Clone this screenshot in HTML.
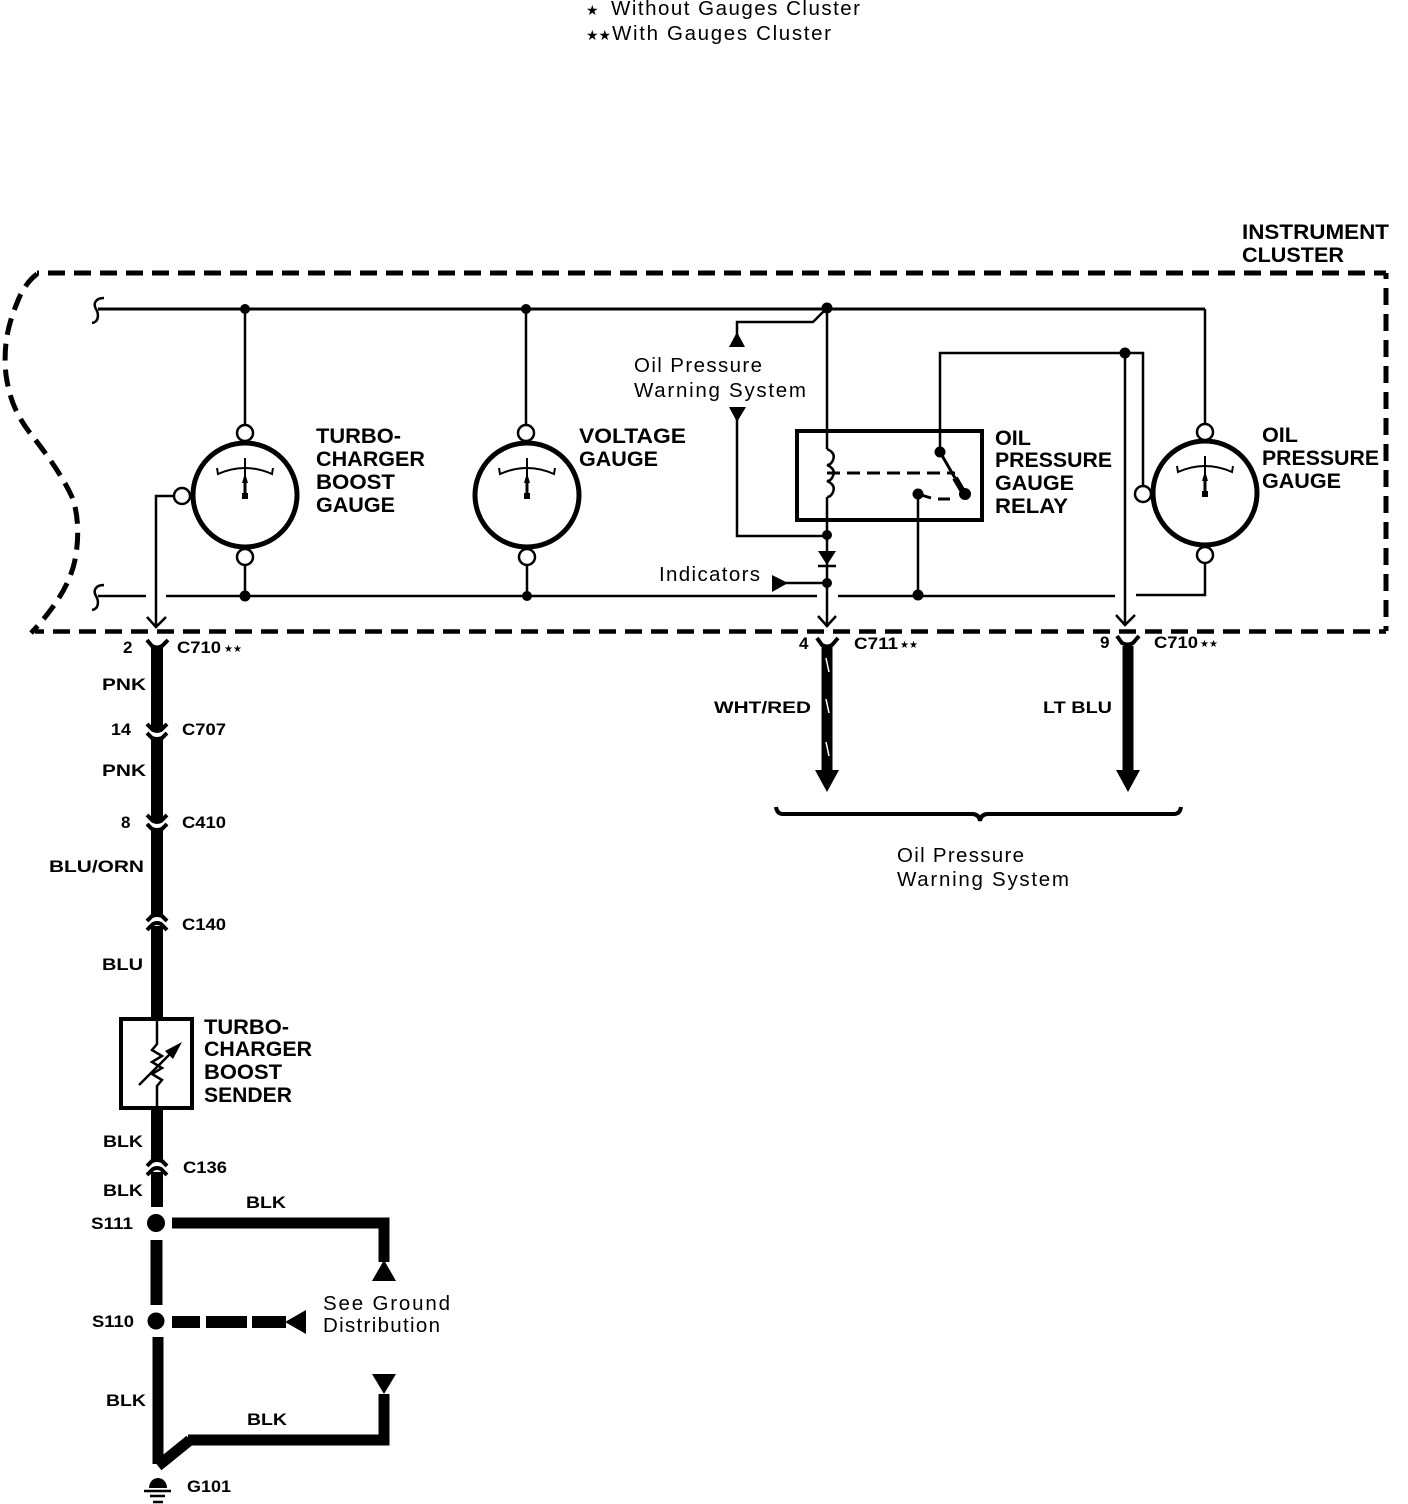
<!DOCTYPE html>
<html><head><meta charset="utf-8"><style>
html,body{margin:0;padding:0;background:#fff}
svg{display:block}
text{font-family:"Liberation Sans","DejaVu Sans",sans-serif;fill:#000}
.b{font-weight:bold;font-size:21px}
.s{font-weight:bold;font-size:17px}
.r{font-size:20.500px}
.star{font-family:"DejaVu Sans",sans-serif;font-size:10px}
.starb{font-family:"DejaVu Sans",sans-serif;font-size:14px}
</style></head><body>
<svg width="1408" height="1504" viewBox="0 0 1408 1504" xmlns="http://www.w3.org/2000/svg">
<defs>
<g id="conn">
<path d="M-10,-9 L-4,-3 Q0,-1 4,-3 L10,-9" fill="none" stroke="#000" stroke-width="4"/>
<path d="M-10,0 L-5,5 Q0,7 5,5 L10,0" fill="none" stroke="#000" stroke-width="4"/>
</g>
<g id="gauge">
<circle cx="0" cy="0" r="52" fill="#fff" stroke="#000" stroke-width="5"/>
<path d="M-28,-27 L-27,-21 Q0,-33 27,-21 L28,-27" fill="none" stroke="#000" stroke-width="2"/>
<path d="M0,-37 V0" stroke="#000" stroke-width="2"/>
<path d="M0,0 V-16" stroke="#000" stroke-width="3"/>
<path d="M0,-22 L-3,-12 H3Z"/>
<rect x="-3" y="-2" width="6" height="6"/>
</g>
<path id="brk" d="M6,-11 C-3,-11 -5,-5 -2,0 C1,5 1,13 -6,14" fill="none" stroke="#000" stroke-width="2.500"/>
</defs>
<rect width="1408" height="1504" fill="#fff"/>

<text x="586" y="15" class="starb">★</text>
<text x="611" y="15" class="r" textLength="249">Without Gauges Cluster</text>
<text x="586" y="40" class="starb">★★</text>
<text x="612" y="40" class="r" textLength="219">With Gauges Cluster</text>

<text x="1242" y="239" class="b" textLength="147" lengthAdjust="spacingAndGlyphs">INSTRUMENT</text>
<text x="1242" y="262" class="b" textLength="102" lengthAdjust="spacingAndGlyphs">CLUSTER</text>

<!-- dashed border -->
<path d="M1386,273 H37" fill="none" stroke="#000" stroke-width="5" stroke-dasharray="17 9" stroke-dashoffset="5"/>
<path d="M35,631.500 H1386" fill="none" stroke="#000" stroke-width="4.500" stroke-dasharray="17 9" stroke-dashoffset="8"/>
<path d="M1386,273 V631" fill="none" stroke="#000" stroke-width="5" stroke-dasharray="17 9" stroke-dashoffset="11"/>
<path d="M37,274 Q24,284 17,303 C8,325 3,345 6,375 C9,395 14,412 30,433 C45,452 62,475 72,497 C79,515 79,540 75,560 C71,580 58,605 31,633" fill="none" stroke="#000" stroke-width="5" stroke-dasharray="17 9"/>

<!-- wires -->
<g fill="none" stroke="#000" stroke-width="2.500">
<path d="M98,309 H1205" stroke-width="3"/>
<path d="M1205,309 V424"/>
<path d="M245,309 V425 M526,309 V425"/>
<path d="M98,596 H146 M166,596 H817 M838,596 H1115 M1136,595 H1205 V563"/>
<path d="M245,565 V596 M527,565 V596"/>
<path d="M174,496 H156 V627 M147,617 L156,627 L166,617"/>
<path d="M827,309 V449 M827,497 V627 M818,616 L827,626 L836,616"/>
<path d="M827,449 q9,4 6,11 q-2,5 -6,5 q9,4 6,11 q-2,5 -6,5 q9,4 6,11 q-2,5 -6,5"/>
<path d="M737,345 V322 H813 L827,308"/>
<path d="M737,415 V536 H827"/>
<path d="M780,583 H827"/>
<path d="M940,452 V353 H1143 V486"/>
<path d="M1125,353 V625 M1116,615 L1125,625 L1135,615"/>
<path d="M918,494 V595"/>
</g>
<g fill="none" stroke="#000" stroke-width="3" stroke-dasharray="13 7"><path d="M827,473 H955"/></g>
<path d="M940,452 L955,478" stroke="#000" stroke-width="3"/>
<path d="M955,478 L965,495" stroke="#000" stroke-width="6"/>
<path d="M918,494 L931,498 M938,499 H950" stroke="#000" stroke-width="3" fill="none"/>
<circle cx="965" cy="494" r="6"/>
<rect x="797" y="431" width="185" height="89" fill="none" stroke="#000" stroke-width="4"/>
<!-- dots -->
<g>
<circle cx="245" cy="309" r="5"/><circle cx="526" cy="309" r="5"/><circle cx="827" cy="308" r="5.500"/>
<circle cx="245" cy="596" r="5.500"/><circle cx="527" cy="596" r="5"/><circle cx="918" cy="595" r="5.500"/>
<circle cx="827" cy="535" r="5"/><circle cx="827" cy="583" r="5"/>
<circle cx="1125" cy="353" r="5.500"/><circle cx="940" cy="452" r="5.500"/><circle cx="918" cy="494" r="5.500"/>
</g>
<use href="#brk" x="98" y="309"/><use href="#brk" x="98" y="596"/>
<!-- gauges -->
<use href="#gauge" x="245" y="495"/>
<use href="#gauge" x="527" y="495"/>
<use href="#gauge" x="1205" y="493"/>
<g fill="#fff" stroke="#000" stroke-width="2.500">
<circle cx="245" cy="433" r="8"/><circle cx="245" cy="557" r="8"/><circle cx="182" cy="496" r="8"/>
<circle cx="526" cy="433" r="8"/><circle cx="527" cy="557" r="8"/>
<circle cx="1205" cy="432" r="8"/><circle cx="1205" cy="555" r="8"/><circle cx="1143" cy="494" r="8"/>
</g>
<!-- triangles small -->
<path d="M737,332 L729,347 H745Z"/>
<path d="M729,407 H746 L737,422Z"/>
<path d="M772,575 V592 L788,583Z"/>
<path d="M818,551 H836 L827,565Z"/><path d="M818,566 H836" stroke="#000" stroke-width="2.500"/>

<text x="316" y="443" class="b" textLength="85" lengthAdjust="spacingAndGlyphs">TURBO-</text>
<text x="316" y="466" class="b" textLength="109" lengthAdjust="spacingAndGlyphs">CHARGER</text>
<text x="316" y="489" class="b" textLength="79" lengthAdjust="spacingAndGlyphs">BOOST</text>
<text x="316" y="512" class="b" textLength="79" lengthAdjust="spacingAndGlyphs">GAUGE</text>
<text x="579" y="443" class="b" textLength="107" lengthAdjust="spacingAndGlyphs">VOLTAGE</text>
<text x="579" y="466" class="b" textLength="79" lengthAdjust="spacingAndGlyphs">GAUGE</text>
<text x="995" y="445" class="b" textLength="36" lengthAdjust="spacingAndGlyphs">OIL</text>
<text x="995" y="467" class="b" textLength="117" lengthAdjust="spacingAndGlyphs">PRESSURE</text>
<text x="995" y="490" class="b" textLength="79" lengthAdjust="spacingAndGlyphs">GAUGE</text>
<text x="995" y="513" class="b" textLength="73" lengthAdjust="spacingAndGlyphs">RELAY</text>
<text x="1262" y="442" class="b" textLength="36" lengthAdjust="spacingAndGlyphs">OIL</text>
<text x="1262" y="465" class="b" textLength="117" lengthAdjust="spacingAndGlyphs">PRESSURE</text>
<text x="1262" y="488" class="b" textLength="79" lengthAdjust="spacingAndGlyphs">GAUGE</text>

<text x="634" y="372" class="r" textLength="128">Oil Pressure</text>
<text x="634" y="397" class="r" textLength="172">Warning System</text>
<text x="659" y="581" class="r" textLength="101">Indicators</text>

<!-- main left harness -->
<g fill="none" stroke="#000" stroke-width="12">
<path d="M157,646 V731"/><path d="M157,738 V822"/><path d="M157,829 V914"/><path d="M157,926 V1018"/>
<path d="M157,1108 V1160"/><path d="M157,1172 V1207"/>
<path d="M156.500,1240 V1305"/>
<path d="M158,1337 V1464" stroke-width="11"/>
<path d="M158,1466 L190,1440" stroke-width="11"/>
<path d="M188,1440 H384 V1394" stroke-width="11"/>
<path d="M172,1223 H384 V1262" stroke-width="11"/>
<path d="M172,1322 H200 M206,1322 H247 M252,1322 H286"/>
</g>
<path d="M147,640 L152,646 Q157,649 162,646 L168,640" fill="none" stroke="#000" stroke-width="4"/>
<use href="#conn" x="157" y="733"/>
<use href="#conn" x="157" y="824"/>
<use href="#conn" transform="translate(157,921) scale(1,-1)"/>
<use href="#conn" transform="translate(157,1166) scale(1,-1)"/>

<rect x="121" y="1019" width="71" height="89" fill="#fff" stroke="#000" stroke-width="4"/>
<path d="M157,1019 V1044 L152,1050 L162,1056 L152,1062 L162,1068 L152,1074 L162,1080 L157,1086 V1108" fill="none" stroke="#000" stroke-width="2.500"/>
<path d="M139,1085 L175,1049" stroke="#000" stroke-width="2.500"/>
<path d="M182,1042 L165,1051 L173,1059Z"/>

<circle cx="156" cy="1223" r="9"/>
<circle cx="156" cy="1321" r="8.500"/>
<path d="M384,1260 L372,1281 H396Z"/>
<path d="M372,1374 H396 L384,1394Z"/>
<path d="M285,1322 L306,1310 V1334Z"/>
<path d="M149,1488 a9,10 0 0 1 18,0Z"/>
<path d="M144,1491 H171 M150,1496 H165 M153,1502 H163" stroke="#000" stroke-width="2.500"/>

<!-- right harness -->
<path d="M827,646 V772" stroke="#000" stroke-width="11"/>
<path d="M1128,646 V772" stroke="#000" stroke-width="11"/>
<path d="M817,638 L822,645 Q827,648 832,645 L838,638" fill="none" stroke="#000" stroke-width="4"/>
<path d="M1117,636 L1122,643 Q1128,646 1133,643 L1139,636" fill="none" stroke="#000" stroke-width="4"/>
<path d="M815,770 H839 L827,792Z"/>
<path d="M1116,770 H1140 L1128,792Z"/>
<path d="M826,658 L829,672 M826,699 L829,713 M826,742 L829,756" stroke="#fff" stroke-width="1.500"/>
<path d="M776,807 Q777,814 783,814 H972 Q979,814 980,821 Q981,814 988,814 H1174 Q1180,814 1181,807" fill="none" stroke="#000" stroke-width="4"/>

<text x="897" y="862" class="r" textLength="127">Oil Pressure</text>
<text x="897" y="886" class="r" textLength="172">Warning System</text>

<!-- small labels -->
<text x="123" y="653" class="s">2</text>
<text x="177" y="653" class="s" textLength="44" lengthAdjust="spacingAndGlyphs">C710</text><text x="224" y="652" class="star">★★</text>
<text x="102" y="690" class="s" textLength="44" lengthAdjust="spacingAndGlyphs">PNK</text>
<text x="111" y="735" class="s" textLength="20" lengthAdjust="spacingAndGlyphs">14</text>
<text x="182" y="735" class="s" textLength="44" lengthAdjust="spacingAndGlyphs">C707</text>
<text x="102" y="776" class="s" textLength="44" lengthAdjust="spacingAndGlyphs">PNK</text>
<text x="121" y="828" class="s">8</text>
<text x="182" y="828" class="s" textLength="44" lengthAdjust="spacingAndGlyphs">C410</text>
<text x="49" y="872" class="s" textLength="95" lengthAdjust="spacingAndGlyphs">BLU/ORN</text>
<text x="182" y="930" class="s" textLength="44" lengthAdjust="spacingAndGlyphs">C140</text>
<text x="102" y="970" class="s" textLength="41" lengthAdjust="spacingAndGlyphs">BLU</text>
<text x="204" y="1034" class="b" textLength="85" lengthAdjust="spacingAndGlyphs">TURBO-</text>
<text x="204" y="1056" class="b" textLength="108" lengthAdjust="spacingAndGlyphs">CHARGER</text>
<text x="204" y="1079" class="b" textLength="78" lengthAdjust="spacingAndGlyphs">BOOST</text>
<text x="204" y="1102" class="b" textLength="88" lengthAdjust="spacingAndGlyphs">SENDER</text>
<text x="103" y="1147" class="s" textLength="40" lengthAdjust="spacingAndGlyphs">BLK</text>
<text x="183" y="1173" class="s" textLength="44" lengthAdjust="spacingAndGlyphs">C136</text>
<text x="103" y="1196" class="s" textLength="40" lengthAdjust="spacingAndGlyphs">BLK</text>
<text x="246" y="1208" class="s" textLength="40" lengthAdjust="spacingAndGlyphs">BLK</text>
<text x="91" y="1229" class="s" textLength="42" lengthAdjust="spacingAndGlyphs">S111</text>
<text x="92" y="1327" class="s" textLength="42" lengthAdjust="spacingAndGlyphs">S110</text>
<text x="106" y="1406" class="s" textLength="40" lengthAdjust="spacingAndGlyphs">BLK</text>
<text x="247" y="1425" class="s" textLength="40" lengthAdjust="spacingAndGlyphs">BLK</text>
<text x="187" y="1492" class="s" textLength="44" lengthAdjust="spacingAndGlyphs">G101</text>
<text x="323" y="1310" class="r" textLength="127">See Ground</text>
<text x="323" y="1332" class="r" textLength="117">Distribution</text>

<text x="799" y="649" class="s">4</text>
<text x="854" y="649" class="s" textLength="44" lengthAdjust="spacingAndGlyphs">C711</text><text x="900" y="648" class="star">★★</text>
<text x="714" y="713" class="s" textLength="97" lengthAdjust="spacingAndGlyphs">WHT/RED</text>
<text x="1100" y="648" class="s">9</text>
<text x="1154" y="648" class="s" textLength="44" lengthAdjust="spacingAndGlyphs">C710</text><text x="1200" y="647" class="star">★★</text>
<text x="1043" y="713" class="s" textLength="69" lengthAdjust="spacingAndGlyphs">LT BLU</text>
</svg>
</body></html>
